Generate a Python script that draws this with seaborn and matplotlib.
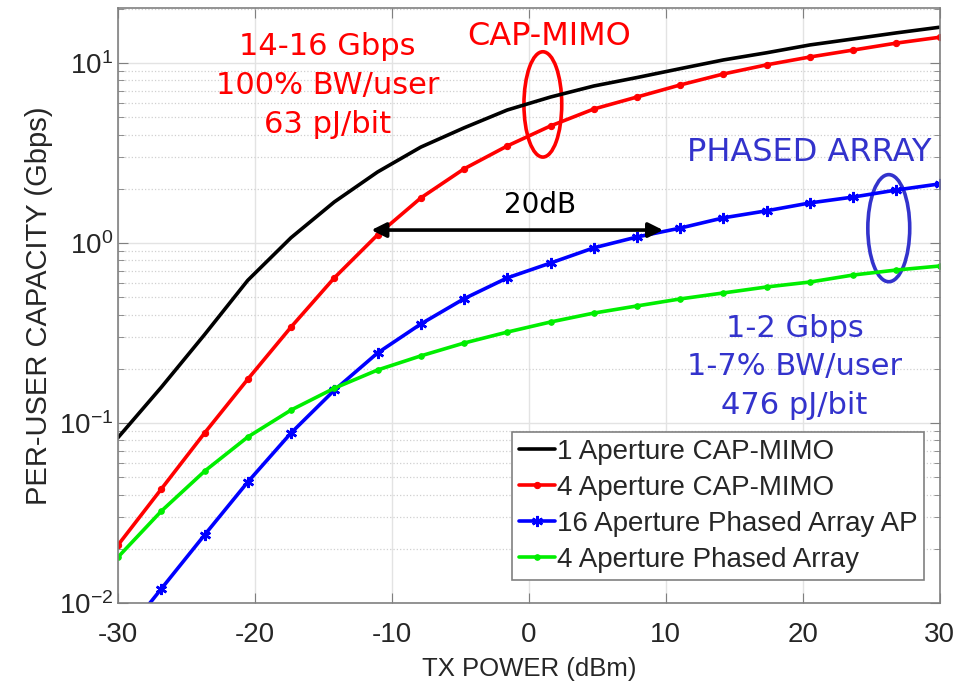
import numpy as np
import pandas as pd
import matplotlib
matplotlib.use('Agg')
import matplotlib.pyplot as plt
from matplotlib.patches import Ellipse
import seaborn as sns

# TX power grid (dBm), 20 points
tx_power = [-30.0, -26.84, -23.68, -20.53, -17.37, -14.21, -11.05, -7.89, -4.74, -1.58,
            1.58, 4.74, 7.89, 11.05, 14.21, 17.37, 20.53, 23.68, 26.84, 30.0]

# per-user capacity (Gbps)
cap_1ap = [0.083, 0.158, 0.31, 0.62, 1.07, 1.69, 2.48, 3.41, 4.36, 5.48,
           6.47, 7.45, 8.3, 9.3, 10.4, 11.4, 12.6, 13.6, 14.7, 15.8]
cap_4ap = [0.021, 0.043, 0.088, 0.175, 0.341, 0.64, 1.11, 1.78, 2.58, 3.46,
           4.47, 5.55, 6.47, 7.55, 8.69, 9.77, 10.8, 11.8, 12.9, 13.9]
pa_16ap = [0.006, 0.012, 0.0239, 0.047, 0.088, 0.152, 0.245, 0.355, 0.49, 0.64,
           0.774, 0.94, 1.08, 1.21, 1.38, 1.51, 1.67, 1.80, 1.97, 2.13]
pa_4ap = [0.018, 0.0324, 0.054, 0.0836, 0.118, 0.156, 0.197, 0.236, 0.278, 0.32,
          0.364, 0.408, 0.447, 0.489, 0.528, 0.57, 0.607, 0.664, 0.708, 0.745]

labels = ['1 Aperture CAP-MIMO', '4 Aperture CAP-MIMO',
          '16 Aperture Phased Array AP', '4 Aperture Phased Array']

df = pd.DataFrame({'tx': tx_power, labels[0]: cap_1ap, labels[1]: cap_4ap,
                   labels[2]: pa_16ap, labels[3]: pa_4ap})

sns.set_style('ticks')
plt.rcParams['font.family'] = ['Liberation Sans', 'DejaVu Sans']
plt.rcParams['axes.unicode_minus'] = False

fig = plt.figure(figsize=(9.55, 6.91), dpi=100)
ax = fig.add_axes([0.1236, 0.1273, 0.8604, 0.8611])

styles = [
    dict(color='black', marker=None),
    dict(color='#ff0000', marker='o', markersize=4.5, markeredgecolor='#ff0000'),
    dict(color='#0000ff', marker=(6, 2, 0), markersize=8, markeredgewidth=1.8,
         markeredgecolor='#0000ff'),
    dict(color='#00ee00', marker='o', markersize=4, markeredgecolor='#00ee00'),
]
for lab, st in zip(labels, styles):
    sns.lineplot(data=df, x='tx', y=lab, ax=ax, label=lab, linewidth=2.6,
                 linestyle='-', **st)

ax.set_yscale('log')
ax.set_xlim(-30, 30)
ax.set_ylim(0.01, 20.2)
ax.set_xticks([-30, -20, -10, 0, 10, 20, 30])

ax.grid(which='major', color='#e3e3e3', lw=1.0)
ax.grid(which='minor', axis='y', color='#d0d0d0', ls=':', lw=0.9)
ax.set_axisbelow(True)
for s in ax.spines.values():
    s.set_color('#808080')
    s.set_linewidth(1.2)
ax.tick_params(which='both', direction='in', top=True, right=True,
               color='#808080', labelsize=20, labelcolor='#262626')
ax.tick_params(which='major', length=7)
ax.tick_params(which='minor', length=4)
ax.tick_params(axis='x', pad=14)

ax.set_xlabel('TX POWER (dBm)', fontsize=18.5, color='#262626', labelpad=6)
ax.set_ylabel('PER-USER CAPACITY (Gbps)', fontsize=21, color='#262626')

leg = ax.legend(loc='lower right', bbox_to_anchor=(0.981, 0.0387), fontsize=20,
                frameon=True, fancybox=False, edgecolor='#808080', framealpha=1,
                handlelength=1.3, handletextpad=0.05, labelspacing=0.36,
                borderpad=0.25, borderaxespad=0)
leg.get_frame().set_linewidth(1.2)

# annotations
red = '#ff0000'
blue = '#3333cc'
ann = ['DejaVu Sans']
ax.text(-14.7, 7.5, '14-16 Gbps\n100% BW/user\n63 pJ/bit', color=red, fontsize=22,
        ha='center', va='center', linespacing=1.42, family=ann)
ax.text(1.5, 14.0, 'CAP-MIMO', color=red, fontsize=23, ha='center', va='center',
        family=ann)
ax.text(20.5, 3.2, 'PHASED ARRAY', color=blue, fontsize=23, ha='center', va='center',
        family=ann)
ax.text(19.4, 0.205, '1-2 Gbps\n1-7% BW/user\n476 pJ/bit', color=blue, fontsize=22,
        ha='center', va='center', linespacing=1.42, family=ann)
ax.text(0.8, 1.63, '20dB', color='black', fontsize=20, ha='center', va='center',
        family=ann)

ax.annotate('', xy=(-11.5, 1.18), xytext=(9.8, 1.18),
            arrowprops=dict(arrowstyle='<|-|>', color='black', lw=2.6,
                            mutation_scale=22, shrinkA=0, shrinkB=0))

ax.add_patch(Ellipse((0.517, 0.838), 0.046, 0.177, transform=ax.transAxes,
                     fill=False, edgecolor=red, lw=2.6))
ax.add_patch(Ellipse((0.938, 0.630), 0.051, 0.180, transform=ax.transAxes,
                     fill=False, edgecolor=blue, lw=2.6))

plt.savefig('out.png', dpi=100)
